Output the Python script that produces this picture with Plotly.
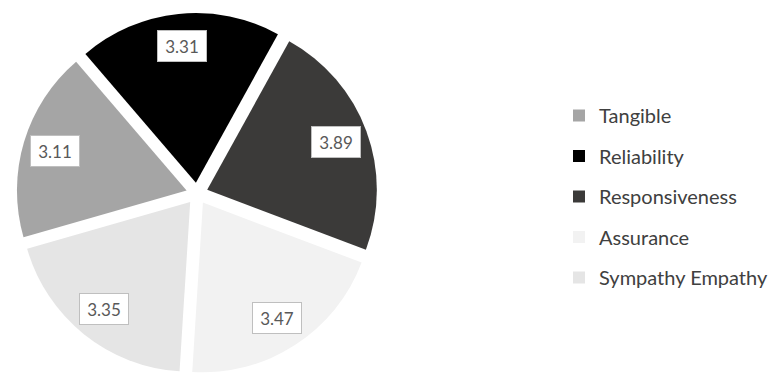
import math
import plotly.graph_objects as go

categories = ["Tangible", "Reliability", "Responsiveness", "Assurance", "Sympathy Empathy"]
values = [3.11, 3.31, 3.89, 3.47, 3.35]
value_labels = ["3.11", "3.31", "3.89", "3.47", "3.35"]
colors = ["#a5a5a5", "#000000", "#3b3a39", "#f2f2f2", "#e5e5e5"]

W, H = 772, 374
M_L, M_R, M_T, M_B = 0, 0, 13, 0
PLOT_W, PLOT_H = W - M_L - M_R, H - M_T - M_B
CX = 197  # pie centre in px (x)
PULL = 0.064
ROT = -106
dom_half = PLOT_H / 2
dom_x = [(CX - dom_half) / PLOT_W, (CX + dom_half) / PLOT_W]

fig = go.Figure()
fig.add_trace(go.Pie(
    labels=categories, values=values, sort=False, direction="clockwise",
    rotation=ROT, pull=[PULL] * len(values),
    marker=dict(colors=colors, line=dict(width=0)),
    textinfo="none", hoverinfo="skip", showlegend=False,
    domain=dict(x=dom_x, y=[0, 1]),
))

# legend entries as marker-only traces so spacing can match
for i, (c, col) in enumerate(zip(categories, colors)):
    fig.add_trace(go.Scatter(
        x=[None], y=[None], mode="markers", name=c,
        marker=dict(symbol="square", size=12, color=col),
        legendgroup=f"g{i}", showlegend=True, hoverinfo="skip",
    ))

# value labels placed at slice mid-angles (same geometry as the pie)
r = (PLOT_H / 2) / (1 + PULL)
cy_px = M_T + PLOT_H / 2
total = sum(values)
acc = 0.0
annotations = []
for v, lab in zip(values, value_labels):
    mid = ROT + (acc + v / 2) / total * 360
    acc += v
    a = math.radians(mid)
    dist = PULL * r + 0.81 * r
    px = CX + dist * math.sin(a)
    py = cy_px - dist * math.cos(a)
    annotations.append(dict(
        x=(px - M_L) / PLOT_W, y=1 - (py - M_T) / PLOT_H,
        xref="paper", yref="paper", xanchor="center", yanchor="middle",
        text=lab, showarrow=False,
        font=dict(family="Lato", size=17, color="#595959"),
        bgcolor="#ffffff", bordercolor="#bfbfbf", borderwidth=1,
        borderpad=1, width=46, height=28, align="center", valign="middle",
    ))

fig.update_layout(
    width=W, height=H,
    margin=dict(l=M_L, r=M_R, t=M_T, b=M_B, autoexpand=False),
    paper_bgcolor="#ffffff", plot_bgcolor="#ffffff",
    xaxis=dict(visible=False), yaxis=dict(visible=False),
    annotations=annotations,
    showlegend=True,
    legend=dict(
        x=559 / W, xanchor="left", y=1 - (96 - M_T) / PLOT_H, yanchor="top",
        font=dict(family="Lato", size=20, color="#404040"),
        tracegroupgap=11.5, bgcolor="rgba(0,0,0,0)", itemsizing="trace",
    ),
)

fig.write_html(
    "out.html",
    config={"displayModeBar": False, "staticPlot": True},
    post_script="document.body.style.margin='0';",
)
